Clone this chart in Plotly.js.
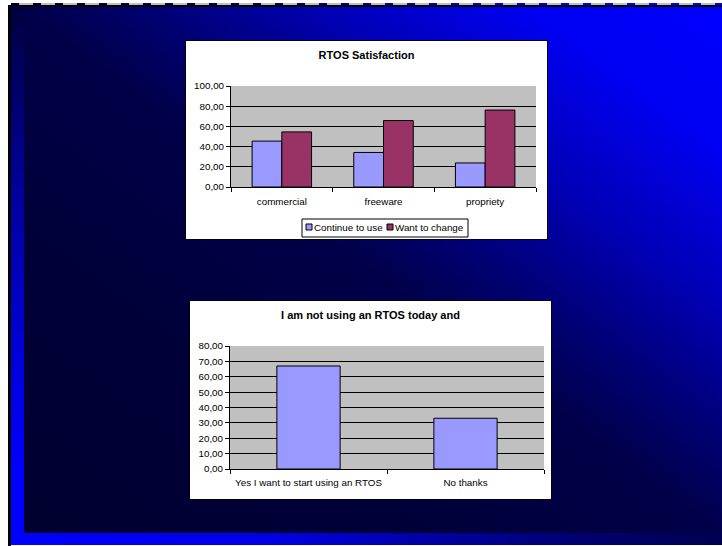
<!DOCTYPE html>
<html>
<head>
<meta charset="utf-8">
<script src="https://cdn.plot.ly/plotly-3.0.1.min.js"></script>
<style>
  html, body { margin: 0; padding: 0; background: #fff; }
  #slide { position: relative; width: 722px; height: 546px; overflow: hidden; background: #fff; }
  .abs { position: absolute; }
  #edgeL { left: 8px; top: 5px; width: 3px; height: 541px; background: #000; }
  #edgeT { left: 8px; top: 5px; width: 714px; height: 2px; background: #000; }
  #dash  { left: 11px; top: 3px; width: 711px; height: 2px;
           background: repeating-linear-gradient(to right, transparent 0 8px, #c0c0c0 8px 22px),
                       linear-gradient(to right, #000033 0%, #000066 35%, #0000d0 65%, #0000ff 85%); }
  #stripL { left: 11px; top: 7px; width: 13px; height: 526px;
            background: linear-gradient(to bottom, #000040 0%, #000060 12%, #0000a0 37%, #0000cc 60%, #0000ff 88%); }
  #stripB { left: 11px; top: 533px; width: 711px; height: 12px;
            background: linear-gradient(to right, #0000ff 0%, #0000e8 35%, #0000a0 60%, #000070 80%, #000050 100%); }
  #panel { left: 24px; top: 7px; width: 698px; height: 526px;
           background: linear-gradient(to bottom left, #0000ff 0%, #0000f2 14%, #0000b4 29%, #000074 41%, #00004a 50%, #000038 72%, #000030 100%); }
  .chartbox { position: absolute; border: 1px solid #000; background: #fff; }
  #box1 { left: 185px; top: 40px; width: 361px; height: 198px; }
  #box2 { left: 189px; top: 300px; width: 361px; height: 198px; }
</style>
</head>
<body>
<div id="slide">
  <div id="panel" class="abs"></div>
  <div id="stripL" class="abs"></div>
  <div id="stripB" class="abs"></div>
  <div id="dash" class="abs"></div>
  <div id="edgeT" class="abs"></div>
  <div id="edgeL" class="abs"></div>
  <div id="box1" class="chartbox"></div>
  <div id="box2" class="chartbox"></div>
</div>
<script>
// ---- Data: RTOS satisfaction (percent) ----
const satisfactionCats = ['commercial', 'freeware', 'propriety'];
const seriesNames = ['Continue to use', 'Want to change'];
const continueToUse = [45.45, 34.2, 23.8];
const wantToChange = [54.55, 65.8, 76.2];
const satisfactionTicks = [0, 20, 40, 60, 80, 100];

// ---- Data: not using an RTOS today (percent) ----
const startCats = ['Yes I want to start using an RTOS', 'No thanks'];
const startValues = [67.0, 33.0];
const startTicks = [0, 10, 20, 30, 40, 50, 60, 70, 80];

const FONT = 'Liberation Sans, Arial, sans-serif';
const BLUE = '#9999ff';
const PLUM = '#993366';
const TXT = 9.8;

function yAxis(range, ticks) {
  return {
    range: range, tickvals: ticks, tickformat: '.2f',
    showline: true, linecolor: '#000', linewidth: 1,
    ticks: 'outside', ticklen: 4, tickcolor: '#000', tickwidth: 1,
    showgrid: true, gridcolor: '#000', gridwidth: 1,
    zeroline: false, fixedrange: true,
    tickfont: { family: FONT, size: TXT, color: '#000' }
  };
}
function xAxis(standoff) {
  return {
    type: 'category', showline: true, linecolor: '#000', linewidth: 1,
    ticks: 'outside', tickson: 'boundaries', ticklen: 4, tickcolor: '#000', tickwidth: 1,
    ticklabelstandoff: standoff,
    showgrid: false, zeroline: false, fixedrange: true,
    tickfont: { family: FONT, size: TXT, color: '#000' }
  };
}
function titleOf(text, h) {
  return {
    text: text, font: { family: FONT, size: 11, color: '#000', weight: 'bold' },
    x: 0.5, xref: 'container', xanchor: 'center',
    y: 1 - 14 / h, yref: 'container', yanchor: 'middle'
  };
}

// ---- Chart 1 ----
const W1 = 361, H1 = 198, M1 = { l: 45, r: 11, t: 45, b: 52, pad: 0 };
const pw1 = W1 - M1.l - M1.r, ph1 = H1 - M1.t - M1.b;
// pixel (relative to chart box) -> paper fraction
const px1 = x => (x - M1.l) / pw1;
const py1 = y => (H1 - M1.b - y) / ph1;

// legend drawn as a framed key under the plot
const legendBox = { x0: 116, x1: 282, y0: 178, y1: 196 };
const legendKeyX = [120, 201];
const legendColors = [BLUE, PLUM];
const legendShapes = [{
  type: 'rect', xref: 'paper', yref: 'paper',
  x0: px1(legendBox.x0), x1: px1(legendBox.x1), y0: py1(legendBox.y1), y1: py1(legendBox.y0),
  line: { color: '#000', width: 1 }, fillcolor: '#fff'
}];
const legendNotes = [];
seriesNames.forEach((name, i) => {
  legendShapes.push({
    type: 'rect', xref: 'paper', yref: 'paper',
    x0: px1(legendKeyX[i]), x1: px1(legendKeyX[i] + 6), y0: py1(189), y1: py1(183),
    line: { color: '#000', width: 1 }, fillcolor: legendColors[i]
  });
  legendNotes.push({
    text: name, xref: 'paper', yref: 'paper', x: px1(legendKeyX[i] + 7), y: py1(186.5),
    xanchor: 'left', yanchor: 'middle', showarrow: false, borderpad: 0,
    font: { family: FONT, size: TXT, color: '#000' }
  });
});

const traces1 = [
  { type: 'bar', name: seriesNames[0], x: satisfactionCats, y: continueToUse,
    marker: { color: BLUE, line: { color: '#000', width: 1 } }, hoverinfo: 'skip' },
  { type: 'bar', name: seriesNames[1], x: satisfactionCats, y: wantToChange,
    marker: { color: PLUM, line: { color: '#000', width: 1 } }, hoverinfo: 'skip' }
];
const layout1 = {
  width: W1, height: H1, margin: M1,
  paper_bgcolor: '#fff', plot_bgcolor: '#c0c0c0',
  separators: ',.',
  font: { family: FONT, size: TXT, color: '#000' },
  title: titleOf('RTOS Satisfaction', H1),
  barmode: 'group', bargap: 0.415, bargroupgap: 0,
  showlegend: false,
  xaxis: xAxis(5),
  yaxis: yAxis([0, 100], satisfactionTicks),
  shapes: legendShapes,
  annotations: legendNotes
};
Plotly.newPlot('box1', traces1, layout1, { staticPlot: true, displayModeBar: false });

// ---- Chart 2 ----
const W2 = 361, H2 = 198, M2 = { l: 40, r: 7, t: 45, b: 30, pad: 0 };
const traces2 = [
  { type: 'bar', x: startCats, y: startValues,
    marker: { color: BLUE, line: { color: '#000', width: 1 } }, hoverinfo: 'skip' }
];
const layout2 = {
  width: W2, height: H2, margin: M2,
  paper_bgcolor: '#fff', plot_bgcolor: '#c0c0c0',
  separators: ',.',
  font: { family: FONT, size: TXT, color: '#000' },
  title: titleOf('I am not using an RTOS today and', H2),
  bargap: 0.597,
  showlegend: false,
  xaxis: xAxis(4),
  yaxis: yAxis([0, 80], startTicks)
};
Plotly.newPlot('box2', traces2, layout2, { staticPlot: true, displayModeBar: false });
</script>
</body>
</html>
